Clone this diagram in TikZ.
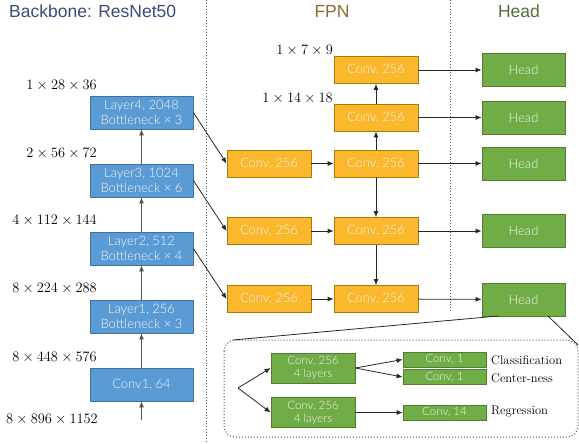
\documentclass[tikz,border=0pt]{standalone}
\usepackage{fontspec}
\newfontfamily\titlefont{Liberation Sans}
\newfontfamily\boxfont{Lato Light}
\usetikzlibrary{arrows.meta}
\definecolor{bluefill}{HTML}{5B9BD5}
\definecolor{blueline}{HTML}{41719C}
\definecolor{orfill}{HTML}{FBB82C}
\definecolor{orline}{HTML}{A67C10}
\definecolor{grfill}{HTML}{70AD47}
\definecolor{grline}{HTML}{507E32}
\definecolor{boxtext}{HTML}{F4F4F4}
\definecolor{ttlblue}{HTML}{3A4B7C}
\definecolor{ttlbrown}{HTML}{8C6D32}
\definecolor{ttlgreen}{HTML}{53703A}
\definecolor{arr}{HTML}{262626}
\definecolor{dotc}{HTML}{555555}
\begin{document}
\begin{tikzpicture}[x=1pt,y=-1pt,
  blk/.style={draw=blueline,fill=bluefill,line width=0.8pt,minimum width=103pt,minimum height=33pt,inner sep=0pt,text=boxtext,font=\boxfont\fontsize{13}{15.5}\selectfont,align=center},
  orbox/.style={draw=orline,fill=orfill,line width=0.8pt,minimum width=84pt,minimum height=27pt,inner sep=0pt,text=boxtext,font=\boxfont\fontsize{13}{15}\selectfont},
  headbox/.style={draw=grline,fill=grfill,line width=0.8pt,minimum width=83pt,minimum height=33pt,inner sep=0pt,text=boxtext,font=\boxfont\fontsize{13}{15}\selectfont},
  inbox/.style={draw=grline,fill=grfill,line width=0.8pt,minimum width=84pt,minimum height=30pt,inner sep=0pt,text=boxtext,font=\boxfont\fontsize{11.5}{13}\selectfont,align=center},
  smbox/.style={draw=grline,fill=grfill,line width=0.8pt,minimum width=83pt,minimum height=15pt,inner sep=0pt,text=boxtext,font=\boxfont\fontsize{11.5}{12}\selectfont},
  dimlbl/.style={anchor=east,inner sep=0pt,font=\fontsize{13.5}{15}\selectfont},
  outlbl/.style={anchor=west,inner sep=0pt,font=\fontsize{12.5}{14}\selectfont},
  ttl/.style={inner sep=0pt,font=\titlefont\fontsize{17.5}{19}\selectfont},
  conn/.style={draw=arr,line width=0.8pt,-{Latex[length=6pt,width=5pt]}},
  upconn/.style={draw=arr!80,line width=1pt,-{Latex[length=6pt,width=5pt]}},
  sep/.style={draw=dotc,line width=0.9pt,dotted}
]
\useasboundingbox (0,0) rectangle (579,444);

% titles
\node[ttl,text=ttlblue,anchor=west] (tb) at (9,11) {Backbone: ResNet50};
\node[ttl,text=ttlbrown] (tf) at (332,11) {FPN};
\node[ttl,text=ttlgreen] (th) at (519,11) {Head};

% separators
\coordinate (s1a) at (206,0); \coordinate (s1b) at (206,444);
\coordinate (s2a) at (450,0); \coordinate (s2b) at (450,312);
\draw[sep] (s1a) -- (s1b);
\draw[sep] (s2a) -- (s2b);

% backbone
\node[blk] (L4) at (141.5,112.5) {Layer4, 2048\\Bottleneck × 3};
\node[blk] (L3) at (141.5,180.5) {Layer3, 1024\\Bottleneck × 6};
\node[blk] (L2) at (141.5,248.5) {Layer2, 512\\Bottleneck × 4};
\node[blk] (L1) at (141.5,316.5) {Layer1, 256\\Bottleneck × 3};
\node[blk] (C1) at (141.5,384.5) {Conv1, 64};
\coordinate (in) at (141.5,420);

\draw[upconn] (in) -- (C1);
\draw[upconn] (C1) -- (L1);
\draw[upconn] (L1) -- (L2);
\draw[upconn] (L2) -- (L3);
\draw[upconn] (L3) -- (L4);

\node[dimlbl] (d1) at (97,85) {$1\times28\times36$};
\node[dimlbl] (d2) at (97,153) {$2\times56\times72$};
\node[dimlbl] (d3) at (97,220) {$4\times112\times144$};
\node[dimlbl] (d4) at (97,288) {$8\times224\times288$};
\node[dimlbl] (d5) at (97,357) {$8\times448\times576$};
\node[dimlbl] (d6) at (98,419) {$8\times896\times1152$};

% FPN
\node[orbox] (A1) at (269,163.5) {Conv, 256};
\node[orbox] (A2) at (269,231) {Conv, 256};
\node[orbox] (A3) at (269,299) {Conv, 256};
\node[orbox] (M1) at (376,70) {Conv, 256};
\node[orbox] (M2) at (376,117.5) {Conv, 256};
\node[orbox] (M3) at (376,163.5) {Conv, 256};
\node[orbox] (M4) at (376,231) {Conv, 256};
\node[orbox] (M5) at (376,299) {Conv, 256};

\node[dimlbl] (f1) at (333,50) {$1\times7\times9$};
\node[dimlbl] (f2) at (333,98) {$1\times14\times18$};

\draw[conn] (L4.east) -- (A1.west);
\draw[conn] (L3.east) -- (A2.west);
\draw[conn] (L2.east) -- (A3.west);
\draw[conn] (A1) -- (M3);
\draw[conn] (A2) -- (M4);
\draw[conn] (A3) -- (M5);
\draw[conn] (M3) -- (M2);
\draw[conn] (M2) -- (M1);
\draw[conn] (M3) -- (M4);
\draw[conn] (M4) -- (M5);

% heads
\node[headbox] (H1) at (523.5,70) {Head};
\node[headbox] (H2) at (523.5,117.5) {Head};
\node[headbox] (H3) at (523.5,163.5) {Head};
\node[headbox] (H4) at (523.5,231) {Head};
\node[headbox] (H5) at (523.5,299.5) {Head};
\draw[conn] (M1) -- (H1);
\draw[conn] (M2) -- (H2);
\draw[conn] (M3) -- (H3);
\draw[conn] (M4) -- (H4);
\draw[conn] (M5) -- (H5);

% detail box
\draw[draw=dotc,line width=1pt,dotted,rounded corners=11pt] (224,340) rectangle (578,437);
\coordinate (hl) at (498,316);
\coordinate (hr) at (548,316);
\coordinate (bl) at (233,340);
\coordinate (br) at (578,345);
\draw[draw=arr,line width=0.8pt] (hl) -- (bl);
\draw[draw=arr,line width=0.8pt] (hr) -- (br);

\coordinate (sp) at (238,388);
\node[inbox] (B1) at (313,368) {Conv, 256\\4 layers};
\node[inbox] (B2) at (313,412.5) {Conv, 256\\4 layers};
\node[smbox] (K1) at (444.5,359.5) {Conv, 1};
\node[smbox] (K2) at (444.5,377) {Conv, 1};
\node[smbox] (K3) at (444.5,412.5) {Conv, 14};
\draw[conn] (sp) -- (B1.west);
\draw[conn] (sp) -- (B2.west);
\draw[conn] (B1.east) -- (K1.west);
\draw[conn] (B1.east) -- (K2.west);
\draw[conn] (B2.east) -- (K3.west);

\node[outlbl] (o1) at (491,360) {Classification};
\node[outlbl] (o2) at (491,378) {Center-ness};
\node[outlbl] (o3) at (491,412) {Regression};
\end{tikzpicture}
\end{document}
